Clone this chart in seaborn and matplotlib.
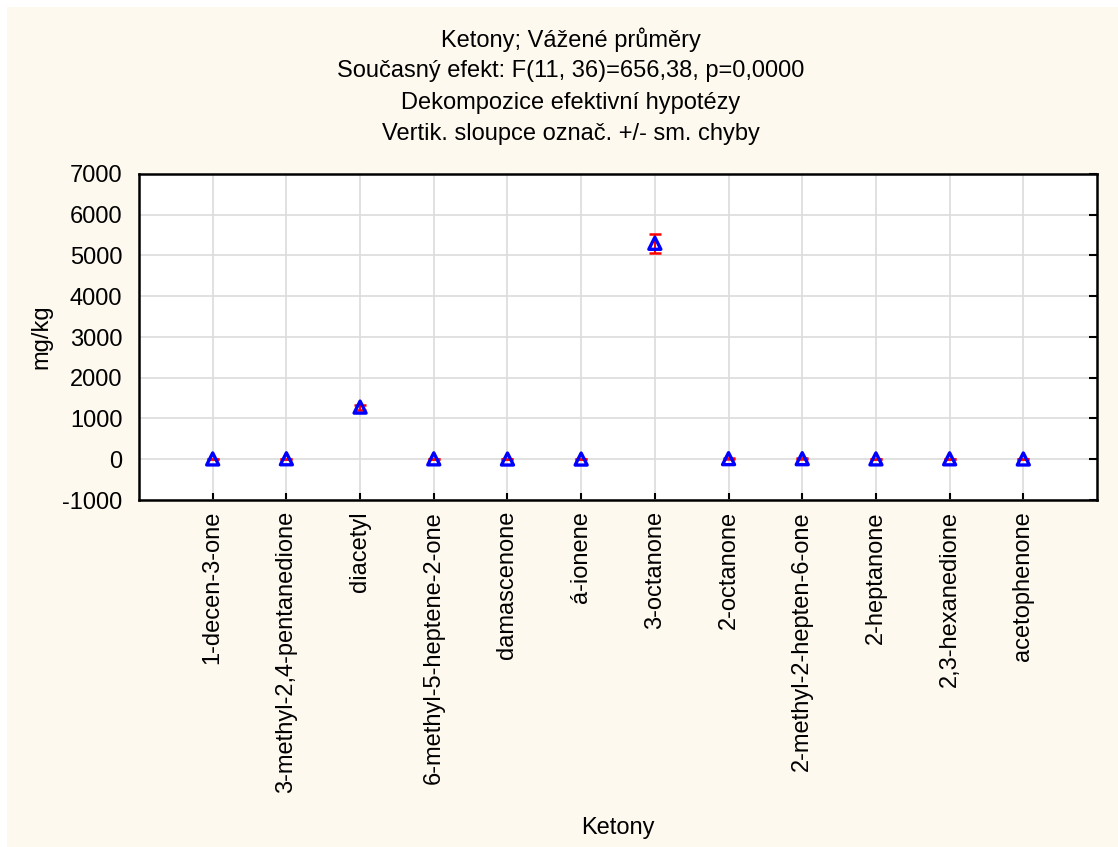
import matplotlib
matplotlib.use("Agg")
import matplotlib.pyplot as plt
from matplotlib.patches import Rectangle
import seaborn as sns
import pandas as pd
import numpy as np

# Weighted means of ketones (mg/kg) with standard errors
ketones = [
    "1-decen-3-one", "3-methyl-2,4-pentanedione", "diacetyl",
    "6-methyl-5-heptene-2-one", "damascenone", "á-ionene", "3-octanone",
    "2-octanone", "2-methyl-2-hepten-6-one", "2-heptanone",
    "2,3-hexanedione", "acetophenone",
]
means = [8, 12, 1280, 10, 6, 5, 5300, 15, 14, 9, 11, 7]
sem = [4, 5, 60, 4, 3, 3, 230, 6, 5, 4, 5, 3]

title_lines = [
    "Ketony; Vážené průměry",
    "Současný efekt: F(11, 36)=656,38, p=0,0000",
    "Dekompozice efektivní hypotézy",
    "Vertik. sloupce označ. +/- sm. chyby",
]

sns.set_style("white")
plt.rcParams["font.family"] = ["Liberation Sans", "DejaVu Sans"]
plt.rcParams["text.color"] = "black"
plt.rcParams["axes.labelcolor"] = "black"
plt.rcParams["xtick.color"] = "black"
plt.rcParams["ytick.color"] = "black"
plt.rcParams["axes.unicode_minus"] = False

FS = 17
W, H = 1118, 847
fig = plt.figure(figsize=(W / 100, H / 100), dpi=100, facecolor="white")
# cream panel behind everything, leaving a thin white strip top/left
fig.patches.append(Rectangle((7 / W, 0), 1 - 7 / W, 1 - 7 / H,
                             transform=fig.transFigure, facecolor="#FEF9EF",
                             edgecolor="none", zorder=-10))

ax = fig.add_axes([139 / W, 1 - 500 / H, (1097 - 139) / W, (500 - 174) / H])
ax.set_facecolor("white")

df = pd.DataFrame({"Ketony": ketones, "mg/kg": means, "sem": sem})
pos = np.arange(len(ketones))

ax.errorbar(pos, df["mg/kg"], yerr=df["sem"], fmt="none", ecolor="red",
            elinewidth=1.5, capsize=4, capthick=1.8, zorder=4)
sns.scatterplot(x=pos, y=df["mg/kg"], marker="^", s=75, facecolor="none",
                edgecolor="blue", linewidth=2.4, ax=ax, zorder=5, legend=False)

ax.set_xlim(-1, len(ketones))
ax.set_ylim(-1000, 7000)
ax.set_yticks(np.arange(-1000, 7001, 1000))
ax.set_xticks(pos)
ax.set_xticklabels(ketones, rotation=90, fontsize=FS)
ax.tick_params(axis="y", labelsize=FS, left=False, right=True, direction="in",
               length=6, width=1.5, pad=12)
ax.tick_params(axis="x", bottom=True, direction="in", length=5, width=1.5, pad=8)
ax.grid(True, color="#dcdcdc", linewidth=1.2)
ax.set_axisbelow(True)
for sp in ax.spines.values():
    sp.set_visible(True)
    sp.set_color("black")
    sp.set_linewidth(1.8)

ax.set_xlabel("Ketony", fontsize=FS)
ax.set_ylabel("mg/kg", fontsize=FS)
ax.xaxis.set_label_coords((618 - 139) / (1097 - 139), -(817 - 500) / (500 - 174))
ax.yaxis.set_label_coords(-(139 - 52) / (1097 - 139), 0.5)

for i, line in enumerate(title_lines):
    fig.text(571 / W, 1 - (40 + 31.3 * i) / H, line, ha="center", va="center",
             fontsize=FS)

fig.savefig("out.png", dpi=100, facecolor=fig.get_facecolor())
